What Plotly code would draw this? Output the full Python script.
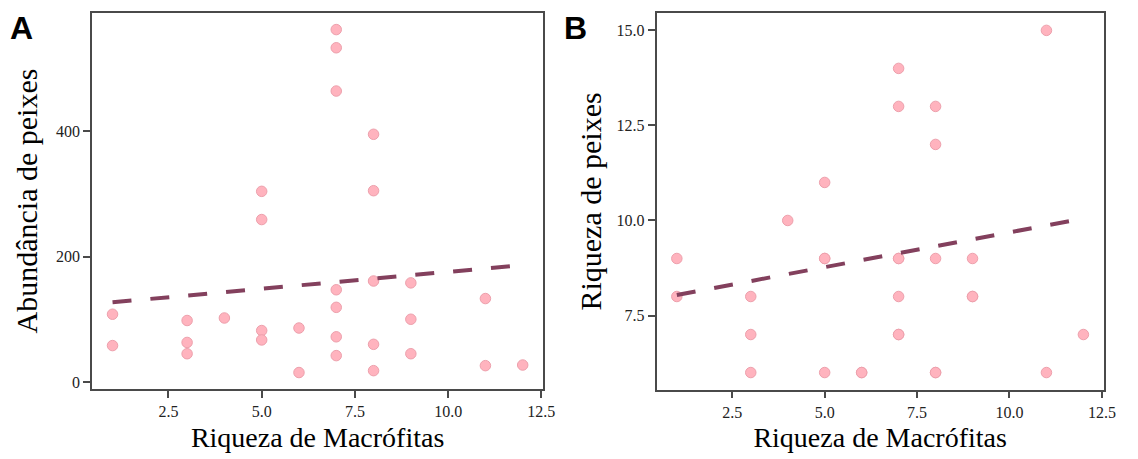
import plotly.graph_objects as go

# Macrophyte richness per site and fish responses
macro_a = [1, 1, 3, 3, 3, 4, 5, 5, 5, 5, 6, 6, 7, 7, 7, 7, 7, 7, 7,
           8, 8, 8, 8, 8, 9, 9, 9, 11, 11, 12]
abund_a = [108, 58, 98, 63, 45, 102, 82, 67, 259, 304, 86, 15, 562, 533, 464,
           147, 119, 72, 42, 395, 305, 161, 60, 18, 158, 100, 45, 133, 26, 27]

macro_b = [1, 1, 3, 3, 3, 4, 5, 5, 5, 5, 6, 6, 7, 7, 7, 7, 7, 7, 7,
           8, 8, 8, 8, 8, 9, 9, 9, 11, 11, 12]
rich_b = [9, 8, 8, 7, 6, 10, 11, 9, 9, 6, 6, 6, 14, 13, 9, 9, 8, 7, 7,
          13, 12, 9, 6, 6, 9, 8, 8, 15, 6, 7]

# Linear fits (intercept, slope)
fit_a = [121.6, 5.4]
fit_b = [7.857, 0.183]
fit_x = [1, 12]

x_ticks = [2.5, 5.0, 7.5, 10.0, 12.5]
ya_ticks = [0, 200, 400]
yb_ticks = [7.5, 10.0, 12.5, 15.0]

POINT_FILL = "#FFB3BE"
POINT_EDGE = "#EDA0AC"
LINE_COLOR = "#83405D"
SERIF = "Liberation Serif, Times New Roman, serif"
W, H = 1138, 459

fig = go.Figure()

fig.add_trace(go.Scatter(
    x=macro_a, y=abund_a, mode="markers", xaxis="x", yaxis="y",
    marker=dict(size=10.5, color=POINT_FILL, line=dict(color=POINT_EDGE, width=1)),
    showlegend=False, hoverinfo="x+y"))
fig.add_trace(go.Scatter(
    x=fit_x, y=[fit_a[0] + fit_a[1] * v for v in fit_x], mode="lines",
    xaxis="x", yaxis="y",
    line=dict(color=LINE_COLOR, width=4, dash="19px,19px"),
    showlegend=False, hoverinfo="skip"))

fig.add_trace(go.Scatter(
    x=macro_b, y=rich_b, mode="markers", xaxis="x2", yaxis="y2",
    marker=dict(size=10.5, color=POINT_FILL, line=dict(color=POINT_EDGE, width=1)),
    showlegend=False, hoverinfo="x+y"))
fig.add_trace(go.Scatter(
    x=fit_x, y=[fit_b[0] + fit_b[1] * v for v in fit_x], mode="lines",
    xaxis="x2", yaxis="y2",
    line=dict(color=LINE_COLOR, width=4, dash="19px,19px"),
    showlegend=False, hoverinfo="skip"))

axis_common = dict(
    showline=True, linecolor="#4a4a4a", linewidth=1.5, mirror=True,
    showgrid=False, zeroline=False,
    ticks="outside", ticklen=7, tickwidth=1.5, tickcolor="#4a4a4a",
    tickfont=dict(family=SERIF, size=16, color="#222222"),
)
title_font = dict(family=SERIF, size=28, color="#000000")
ytitle_font = dict(family=SERIF, size=30, color="#000000")
letter_font = dict(family="Liberation Sans, Arial, sans-serif", size=32, color="#000")

fig.update_layout(
    width=W, height=H, autosize=False,
    margin=dict(l=0, r=0, t=0, b=0),
    paper_bgcolor="white", plot_bgcolor="white",
    xaxis=dict(domain=[93 / W, 549 / W], range=[0.45, 12.55],
               tickvals=x_ticks, tickformat=".1f",
               title=dict(text="Riqueza de Macrófitas", font=title_font, standoff=8),
               anchor="y", **axis_common),
    yaxis=dict(domain=[1 - 390 / H, 1 - 13 / H], range=[-11.5, 588.5],
               tickvals=ya_ticks,
               title=dict(text="Abundância de peixes", font=ytitle_font, standoff=10),
               anchor="x", **axis_common),
    xaxis2=dict(domain=[663.5 / W, 1115.5 / W], range=[0.45, 12.55],
                tickvals=x_ticks, tickformat=".1f",
                title=dict(text="Riqueza de Macrófitas", font=title_font, standoff=8),
                anchor="y2", **axis_common),
    yaxis2=dict(domain=[1 - 390.5 / H, 1 - 13.3 / H], range=[5.55, 15.45],
                tickvals=yb_ticks, tickformat=".1f",
                title=dict(text="Riqueza de peixes", font=ytitle_font, standoff=6),
                anchor="x2", **axis_common),
    annotations=[
        dict(text="<b>A</b>", x=8 / W, y=1 - 8 / H, xref="paper", yref="paper",
             xanchor="left", yanchor="top", showarrow=False, font=letter_font),
        dict(text="<b>B</b>", x=568 / W, y=1 - 8 / H, xref="paper", yref="paper",
             xanchor="left", yanchor="top", showarrow=False, font=letter_font),
    ],
)

page_css = (
    "document.documentElement.style.margin='0';"
    "document.documentElement.style.overflow='hidden';"
    "document.body.style.margin='0';"
    "document.body.style.overflow='hidden';"
)

fig.write_html("out.html", config={"responsive": False}, post_script=page_css)
